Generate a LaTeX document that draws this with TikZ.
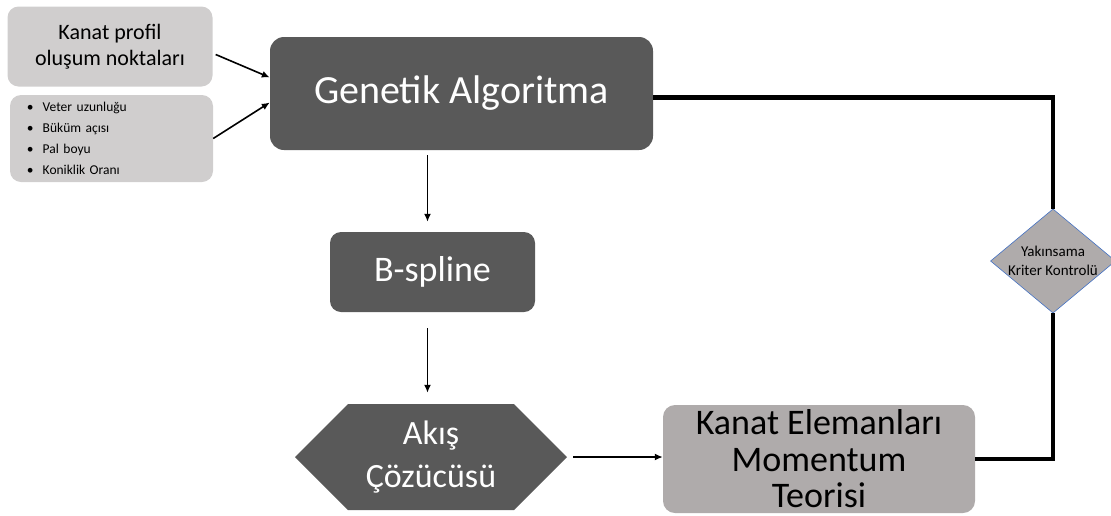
\documentclass[tikz,border=0pt]{standalone}
\usepackage{fontspec}
\setmainfont{Carlito}
\usetikzlibrary{shapes.geometric,shapes.symbols,arrows.meta}
\definecolor{darkbox}{HTML}{595959}
\definecolor{lightbox}{HTML}{D0CECE}
\definecolor{midbox}{HTML}{AFABAB}
\definecolor{diaedge}{HTML}{4472C4}
\tikzset{
  darknode/.style={fill=darkbox,text=white,rounded corners=14pt,align=center},
  lightnode/.style={fill=lightbox,rounded corners=11pt,align=center},
  flow/.style={line width=1.6pt,-{Latex[length=8pt,width=7pt]}},
  loopline/.style={line width=4.5pt}
}
\begin{document}
\begin{tikzpicture}[x=1pt,y=-1pt]
        \useasboundingbox (0,0) rectangle (1111,515);
        %% Inputs
        \node[lightnode,minimum width=205pt,minimum height=80pt,font=\fontsize{22}{26}\selectfont] (prof) at (110,46.5) {Kanat profil\\oluşum noktaları};
        \node[lightnode,minimum width=203pt,minimum height=87pt,align=left,font=\fontsize{13.5}{21}\selectfont,text width=169pt] (params) at (111.5,138.5)
          {\textbullet\hspace{9pt}Veter uzunluğu\\\textbullet\hspace{9pt}Büküm açısı\\\textbullet\hspace{9pt}Pal boyu\\\textbullet\hspace{9pt}Koniklik Oranı};
        %% Main chain
        \node[darknode,minimum width=383pt,minimum height=113pt,font=\fontsize{40}{44}\selectfont] (ga) at (461.5,93.5) {Genetik Algoritma};
        \node[darknode,rounded corners=11pt,minimum width=205pt,minimum height=80pt,font=\fontsize{36}{40}\selectfont] (bsp) at (432.5,272) {B-spline};
        \node[signal,signal to=east and west,signal pointer angle=90,fill=darkbox,text=white,align=center,
          minimum width=272pt,minimum height=106pt,inner xsep=0pt,font=\fontsize{34}{43}\selectfont] (solver) at (431,457) {Akış\\Çözücüsü};
        \node[fill=midbox,rounded corners=12pt,align=center,minimum width=312pt,minimum height=108pt,
          font=\fontsize{36}{36.5}\selectfont] (bem) at (819,459) {Kanat Elemanları\\Momentum\\Teorisi};
        %% Convergence check
        \node[diamond,aspect=1.2,fill=midbox,draw=diaedge,line width=0.6pt,inner sep=0pt,minimum width=118pt,minimum height=98pt,
          align=center,font=\fontsize{15}{19}\selectfont] (conv) at (1053,261) {Yakınsama\\Kriter Kontrolü};
        %% Arrows
        \draw[flow] (prof.east) ++(3,8) -- ([yshift=16pt]ga.west);
        \draw[flow] (params.east) -- ([yshift=-9pt]ga.west);
        \draw[flow] ([xshift=-5pt,yshift=-5pt]bsp.north |- ga.south) -- ([xshift=-5pt,yshift=10pt]bsp.north);
        \draw[flow] ([xshift=-5pt,yshift=-16pt]bsp.south) -- ([xshift=-5pt,yshift=11pt]bsp.south |- solver.north);
        \draw[flow] ([xshift=6pt]solver.east) -- (solver.east -| bem.west);
        %% Feedback loop
        \draw[loopline] ([yshift=-4pt]ga.east) -| (conv.north);
        \draw[loopline] (conv.south) |- (bem.east);
\end{tikzpicture}
\end{document}
